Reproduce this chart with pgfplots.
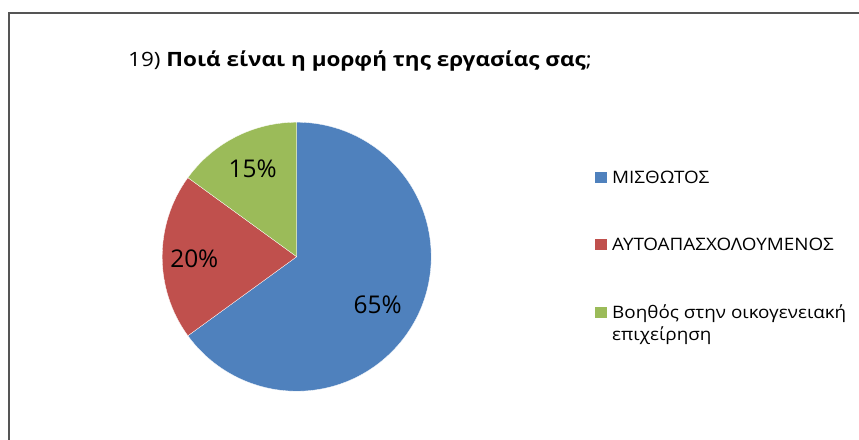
\documentclass[border=0pt]{standalone}
\usepackage{pgfplots}
\pgfplotsset{compat=1.18}
\usepackage{fontspec}
\setmainfont{Open Sans}
\definecolor{pieblue}{HTML}{4F81BD}
\definecolor{piered}{HTML}{C0504D}
\definecolor{piegreen}{HTML}{9BBB59}
\definecolor{framegray}{HTML}{555555}
\newcommand{\wide}[2]{\scalebox{#1}[1]{#2}}
\begin{document}
\begin{tikzpicture}
\useasboundingbox (0,0) rectangle (859bp,440bp);
\begin{axis}[
  at={(0,0)}, anchor=south west,
  hide axis, scale only axis, clip=false,
  width=859bp, height=440bp,
  xmin=0, xmax=859, ymin=0, ymax=440, y dir=reverse]
  % frame (only top and left edges are visible)
  \draw[framegray, line width=1.6bp] (axis cs:9,445) -- (axis cs:9,13) -- (axis cs:865,13);
  % slices: 65, 20, 15 percent, clockwise from 12 o'clock
  \fill[pieblue, draw=white, line width=0.3bp] (axis cs:296.7,256.7) -- ++(90:134.5bp)
    arc[start angle=90, end angle={90-3.6*65}, radius=134.5bp] -- cycle;
  \fill[piered, draw=white, line width=0.3bp] (axis cs:296.7,256.7) -- ++({90-3.6*65}:134.5bp)
    arc[start angle={90-3.6*65}, end angle={90-3.6*(65+20)}, radius=134.5bp] -- cycle;
  \fill[piegreen, draw=white, line width=0.3bp] (axis cs:296.7,256.7) -- ++({90-3.6*85}:134.5bp)
    arc[start angle={90-3.6*85}, end angle={90-3.6*100}, radius=134.5bp] -- cycle;
  \node[font=\fontsize{24.5}{28}\selectfont] at (axis cs:377.7,305) {65\%};
  \node[font=\fontsize{24.5}{28}\selectfont] at (axis cs:194.3,258.3) {20\%};
  \node[font=\fontsize{24.5}{28}\selectfont] at (axis cs:252.7,168.3) {15\%};
  % title
  \node[anchor=base west, inner sep=0, font=\fontsize{19.8}{24}\selectfont] at (axis cs:128,66)
    {\wide{1.14}{19) \textbf{Ποιά είναι η μορφή της εργασίας σας};}};
  % legend
  \fill[pieblue] (axis cs:595,171.5) rectangle (axis cs:606.5,183);
  \fill[piered] (axis cs:595,238.5) rectangle (axis cs:606.5,250);
  \fill[piegreen] (axis cs:595,306.5) rectangle (axis cs:606.5,318);
  \node[anchor=base west, inner sep=0, font=\fontsize{17.2}{21}\selectfont] at (axis cs:612,183.3) {\wide{1.1}{ΜΙΣΘΩΤΟΣ}};
  \node[anchor=base west, inner sep=0, font=\fontsize{17.2}{21}\selectfont] at (axis cs:612,250) {\wide{1.1}{ΑΥΤΟΑΠΑΣΧΟΛΟΥΜΕΝΟΣ}};
  \node[anchor=base west, inner sep=0, font=\fontsize{17.2}{21}\selectfont] at (axis cs:612,318.3) {\wide{1.1}{Βοηθός στην οικογενειακή}};
  \node[anchor=base west, inner sep=0, font=\fontsize{17.2}{21}\selectfont] at (axis cs:612,340.3) {\wide{1.1}{επιχείρηση}};
\end{axis}
\end{tikzpicture}
\end{document}
